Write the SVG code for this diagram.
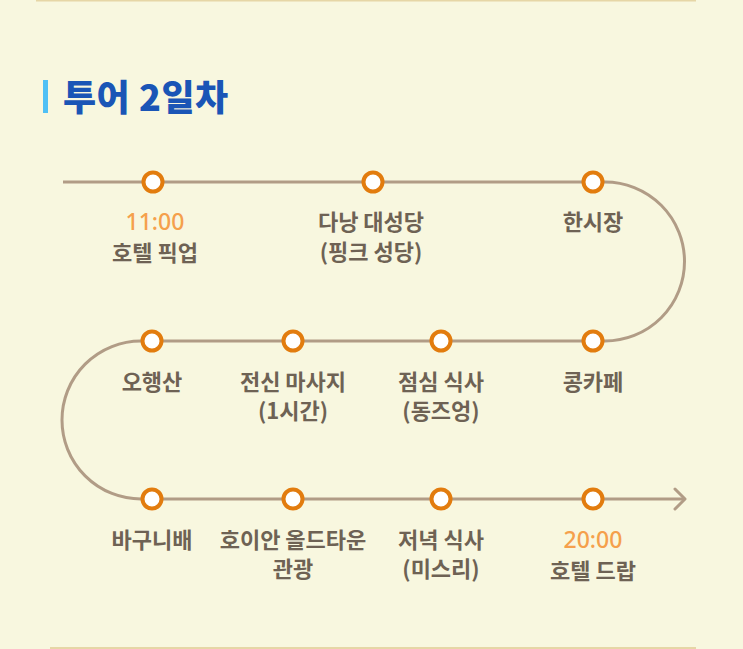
<svg xmlns="http://www.w3.org/2000/svg" width="743" height="649" viewBox="0 0 743 649">
<style>
.lbl{font-family:"Noto Sans CJK KR","Noto Sans",sans-serif;font-size:22px;font-weight:700;fill:#6e6254;text-anchor:middle}
.time{font-family:"Noto Sans","Noto Sans CJK KR",sans-serif;font-size:23px;font-weight:500;fill:#f5a04c;text-anchor:middle}
.node{fill:#ffffff;stroke:#e27c0e;stroke-width:4}
.path{fill:none;stroke:#b19c86;stroke-width:3}
</style>
<rect width="743" height="649" fill="#f8f7df"/>
<line x1="36" y1="0.5" x2="696" y2="0.5" stroke="#e6d6a6" stroke-width="2"/>
<line x1="50" y1="648" x2="696" y2="648" stroke="#e6d6a6" stroke-width="2"/>
<g id="title">
<rect x="43" y="80" width="5" height="33" fill="#4fc0f5"/>
<text x="63" y="111" font-family="Noto Sans CJK KR,Noto Sans,sans-serif" font-size="36" font-weight="900" letter-spacing="0.5" fill="#1a55b6">투어 2일차</text>
</g>
<g id="connectors">
<path class="path" d="M63 182 H605 A79.5 79.5 0 0 1 605 341 H141 A79 79 0 0 0 141 499 H684"/>
<polyline class="path" points="675,489 685,499 675,509" stroke-linecap="round" stroke-linejoin="round"/>
</g>
<g id="n1"><circle class="node" cx="153" cy="182" r="9.5"/><text class="time" x="155" y="230">11:00</text><text class="lbl" x="155" y="261">호텔 픽업</text></g>
<g id="n2"><circle class="node" cx="373" cy="182" r="9.5"/><text class="lbl" x="371" y="230">다낭 대성당</text><text class="lbl" x="371" y="260">(핑크 성당)</text></g>
<g id="n3"><circle class="node" cx="593" cy="182" r="9.5"/><text class="lbl" x="593" y="230">한시장</text></g>
<g id="n4"><circle class="node" cx="593" cy="341" r="9.5"/><text class="lbl" x="593" y="390">콩카페</text></g>
<g id="n5"><circle class="node" cx="441" cy="341" r="9.5"/><text class="lbl" x="441" y="390">점심 식사</text><text class="lbl" x="441" y="419">(동즈엉)</text></g>
<g id="n6"><circle class="node" cx="293" cy="341" r="9.5"/><text class="lbl" x="293" y="390">전신 마사지</text><text class="lbl" x="293" y="419">(1시간)</text></g>
<g id="n7"><circle class="node" cx="152" cy="341" r="9.5"/><text class="lbl" x="152" y="390">오행산</text></g>
<g id="n8"><circle class="node" cx="152" cy="499" r="9.5"/><text class="lbl" x="152" y="548">바구니배</text></g>
<g id="n9"><circle class="node" cx="293" cy="499" r="9.5"/><text class="lbl" x="293" y="548">호이안 올드타운</text><text class="lbl" x="293" y="577">관광</text></g>
<g id="n10"><circle class="node" cx="441" cy="499" r="9.5"/><text class="lbl" x="441" y="548">저녁 식사</text><text class="lbl" x="441" y="577">(미스리)</text></g>
<g id="n11"><circle class="node" cx="593" cy="499" r="9.5"/><text class="time" x="593" y="548">20:00</text><text class="lbl" x="593" y="579">호텔 드랍</text></g>
</svg>
